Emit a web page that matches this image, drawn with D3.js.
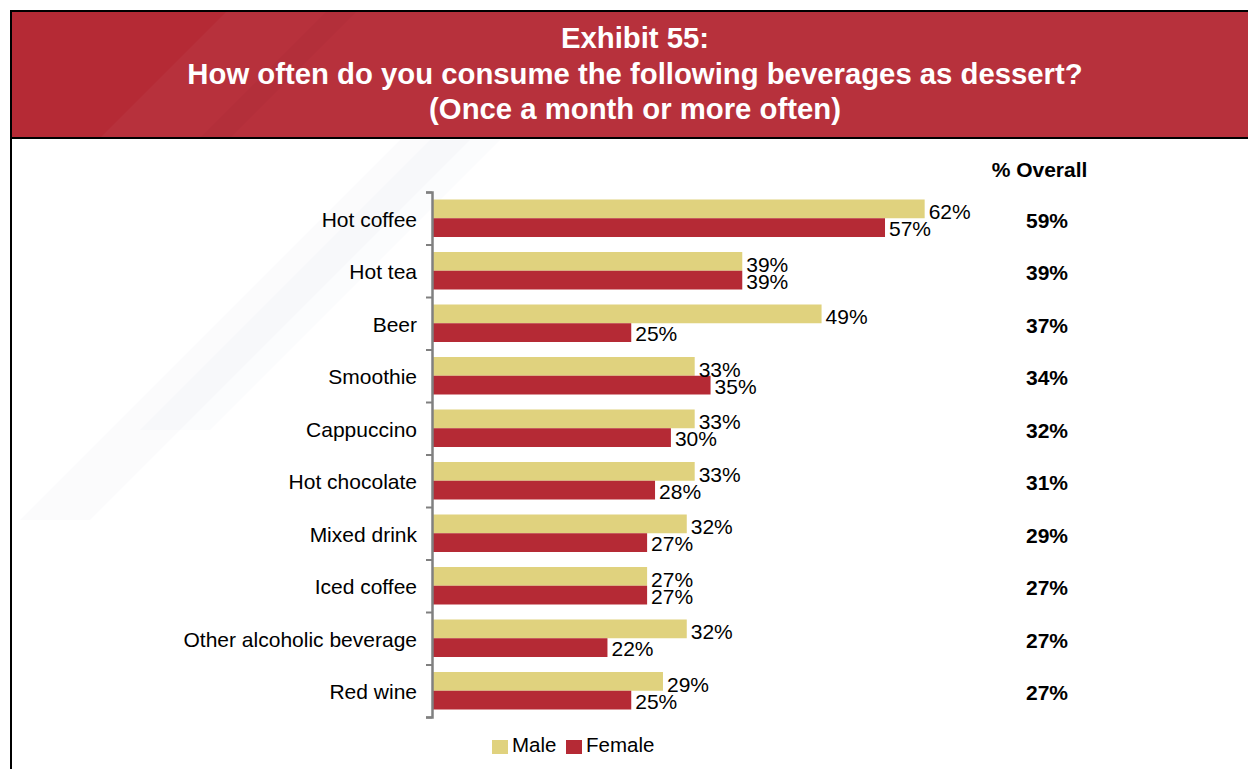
<!DOCTYPE html>
<html>
<head>
<meta charset="utf-8">
<script src="https://cdn.jsdelivr.net/npm/d3@7"></script>
<style>
  html, body { margin: 0; padding: 0; background: #fff; }
  svg { display: block; font-family: "Liberation Sans", Arial, sans-serif; }
</style>
</head>
<body>
<svg id="chart" width="1248" height="769"></svg>
<script>
// Survey data: share of respondents consuming each beverage as dessert once a month or more
const categories = ["Hot coffee", "Hot tea", "Beer", "Smoothie", "Cappuccino",
  "Hot chocolate", "Mixed drink", "Iced coffee", "Other alcoholic beverage", "Red wine"];
const maleValues = [62, 39, 49, 33, 33, 33, 32, 27, 32, 29];
const femaleValues = [57, 39, 25, 35, 30, 28, 27, 27, 22, 25];
const overallValues = [59, 39, 37, 34, 32, 31, 29, 27, 27, 27];
const seriesNames = ["Male", "Female"];
const titleLines = ["Exhibit 55:",
  "How often do you consume the following beverages as dessert?",
  "(Once a month or more often)"];
const overallHeader = "% Overall";

const colors = { Male: "#E0D27E", Female: "#B52A35" };
const headerRed = "#B52A35";

const svg = d3.select("#chart");

// ---- soft diagonal background bands ----
const bands = svg.append("g").attr("pointer-events", "none");
bands.append("path")
  .attr("d", "M20,520 L400,140 L470,140 L90,520 Z")
  .attr("fill", "#8a94b0").attr("fill-opacity", 0.035);
bands.append("path")
  .attr("d", "M140,430 L430,140 L500,140 L210,430 Z")
  .attr("fill", "#8a94b0").attr("fill-opacity", 0.03);

// ---- header band ----
svg.append("rect")
  .attr("x", 11).attr("y", 11).attr("width", 1248 - 11).attr("height", 127)
  .attr("fill", headerRed);
svg.append("clipPath").attr("id", "headclip")
  .append("rect").attr("x", 11).attr("y", 11).attr("width", 1237).attr("height", 127);
const hg = svg.append("g").attr("clip-path", "url(#headclip)").attr("pointer-events", "none");
hg.append("path")
  .attr("d", "M100,138 L230,8 L1248,8 L1248,138 Z")
  .attr("fill", "#ffffff").attr("fill-opacity", 0.035);
hg.append("path")
  .attr("d", "M200,138 L330,8 L360,8 L230,138 Z")
  .attr("fill", "#7a1020").attr("fill-opacity", 0.05);

// frame lines
svg.append("line").attr("x1", 10).attr("x2", 1248).attr("y1", 11).attr("y2", 11)
  .attr("stroke", "#000").attr("stroke-width", 2);
svg.append("line").attr("x1", 10).attr("x2", 1248).attr("y1", 138).attr("y2", 138)
  .attr("stroke", "#000").attr("stroke-width", 2);
svg.append("line").attr("x1", 11).attr("x2", 11).attr("y1", 10).attr("y2", 769)
  .attr("stroke", "#000").attr("stroke-width", 2);

// title
const titleY = [48, 83.5, 119];
svg.append("g").selectAll("text").data(titleLines).join("text")
  .attr("x", 635).attr("y", (d, i) => titleY[i])
  .attr("text-anchor", "middle")
  .attr("font-size", 29.3).attr("font-weight", "bold")
  .attr("fill", "#fff")
  .text(d => d);

// ---- scales ----
const y = d3.scaleBand().domain(categories).range([192, 717]).padding(0);
const ySub = d3.scaleBand().domain(seriesNames).range([0, y.step()])
  .paddingInner(0).paddingOuter(0.4);
const x = d3.scaleLinear().domain([0, 100]).range([433, 1226]);

const rows = categories.map((c, i) => ({
  category: c,
  values: [
    { series: "Male", value: maleValues[i] },
    { series: "Female", value: femaleValues[i] }
  ],
  overall: overallValues[i]
}));

// bars
const rowG = svg.append("g").selectAll("g").data(rows).join("g")
  .attr("transform", d => `translate(0,${y(d.category)})`);

rowG.selectAll("rect").data(d => d.values).join("rect")
  .attr("x", x(0))
  .attr("y", d => ySub(d.series))
  .attr("width", d => x(d.value) - x(0))
  .attr("height", ySub.bandwidth())
  .attr("fill", d => colors[d.series]);

// value labels
rowG.selectAll("text.val").data(d => d.values).join("text")
  .attr("class", "val")
  .attr("x", d => x(d.value) + 4)
  .attr("y", d => ySub(d.series) + ySub.bandwidth() / 2 + (d.series === "Male" ? 10.5 : 8.5))
  .attr("font-size", 21)
  .attr("fill", "#000")
  .text(d => d.value + "%");

// category axis with ticks at band boundaries
const boundary = d3.scaleLinear().domain([0, categories.length]).range([192, 717]);
const axisG = svg.append("g").attr("transform", "translate(432,0)")
  .call(d3.axisLeft(boundary).ticks(categories.length).tickSize(6).tickSizeOuter(6).tickFormat(""));
axisG.selectAll("path.domain").attr("stroke", "#808080").attr("stroke-width", 2.5);
axisG.selectAll(".tick line").attr("stroke", "#808080").attr("stroke-width", 2);

// category labels
svg.append("g").selectAll("text").data(categories).join("text")
  .attr("x", 417)
  .attr("y", d => y(d) + y.bandwidth() / 2 + 8.5)
  .attr("text-anchor", "end")
  .attr("font-size", 21)
  .attr("fill", "#000")
  .text(d => d);

// overall column
svg.append("text")
  .attr("x", 1039.5).attr("y", 177)
  .attr("text-anchor", "middle")
  .attr("font-size", 21).attr("font-weight", "bold")
  .text(overallHeader);
svg.append("g").selectAll("text").data(rows).join("text")
  .attr("x", 1047)
  .attr("y", d => y(d.category) + y.bandwidth() / 2 + 9.5)
  .attr("text-anchor", "middle")
  .attr("font-size", 21).attr("font-weight", "bold")
  .text(d => d.overall + "%");

// legend
const legendX = { Male: 492, Female: 566 };
const lg = svg.append("g").selectAll("g").data(seriesNames).join("g")
  .attr("transform", d => `translate(${legendX[d]},740)`);
lg.append("rect").attr("width", 16).attr("height", 14).attr("fill", d => colors[d]);
lg.append("text").attr("x", 20).attr("y", 11.5)
  .attr("font-size", 20.5).attr("fill", "#000").text(d => d);
</script>
</body>
</html>
